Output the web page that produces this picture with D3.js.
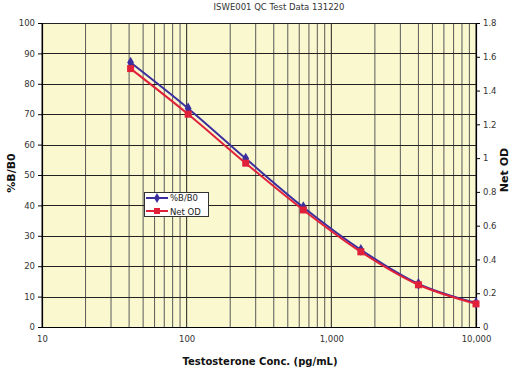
<!DOCTYPE html>
<html><head><meta charset="utf-8">
<script src="https://cdn.jsdelivr.net/npm/d3@7"></script>
<style>body{margin:0;background:#fff}svg{display:block}</style>
</head><body><svg id="c" width="512" height="368"></svg>
<script>
const conc = [40.96, 102.4, 256, 640, 1600, 4000, 10000];
const pctB = [87.0, 71.9, 55.4, 39.4, 25.4, 14.2, 7.9];
const netOD = [1.53, 1.26, 0.97, 0.693, 0.445, 0.25, 0.137];
const leftTicks = [0,10,20,30,40,50,60,70,80,90,100];
const rightTicks = [0,0.2,0.4,0.6,0.8,1,1.2,1.4,1.6,1.8];
const xTicks = [10,100,1000,10000];
const title = "ISWE001 QC Test Data 131220";

const svg = d3.select("#c");
const L=42,R=476,T=23,B=327;
const x = d3.scaleLog().domain([10,10000]).range([L,R]);
const yL = d3.scaleLinear().domain([0,100]).range([B,T]);
const yR = d3.scaleLinear().domain([0,1.8]).range([B,T]);
const font = "DejaVu Sans, sans-serif";

svg.append("rect").attr("x",L).attr("y",T).attr("width",R-L).attr("height",B-T).attr("fill","#F9F8CF");

// vertical grid
const minor = [];
for (let d=10; d<10000; d*=10) for (let k=1;k<10;k++) minor.push(d*k);
minor.push(10000);
svg.append("g").selectAll("line").data(minor).join("line")
  .attr("x1",d=>x(d)).attr("x2",d=>x(d)).attr("y1",T).attr("y2",B)
  .attr("stroke",d=>[10,100,1000,10000].includes(d)?"#222":"#5a5a5a").attr("stroke-width",1);
// horizontal grid
svg.append("g").selectAll("line").data(leftTicks).join("line")
  .attr("x1",L).attr("x2",R).attr("y1",d=>Math.round(yL(d))+0.5).attr("y2",d=>Math.round(yL(d))+0.5)
  .attr("stroke","#222").attr("stroke-width",1);

// axes
const axL = svg.append("g").attr("transform",`translate(${L},0)`)
  .call(d3.axisLeft(yL).tickValues(leftTicks).tickSize(4).tickPadding(3));
const axR = svg.append("g").attr("transform",`translate(${R},0)`)
  .call(d3.axisRight(yR).tickValues(rightTicks).tickSize(4).tickPadding(3).tickFormat(d=>d3.format("~g")(d)));
const axB = svg.append("g").attr("transform",`translate(0,${B})`)
  .call(d3.axisBottom(x).tickValues(xTicks).tickSize(0).tickPadding(9).tickFormat(d3.format(",")));
[axL,axR,axB].forEach(g=>{
  g.select(".domain").attr("stroke","#000").attr("stroke-width",1.2);
  g.selectAll(".tick line").attr("stroke","#000");
  g.selectAll("text").attr("font-family",font).attr("font-size",8.5).attr("fill","#333");
});

// lines
const line = (ys, yS) => d3.line().x((d,i)=>x(conc[i])).y(d=>yS(d)).curve(d3.curveCatmullRom)(ys);
svg.append("path").attr("d",line(pctB,yL)).attr("fill","none").attr("stroke","#3B2F9E").attr("stroke-width",2);
svg.append("path").attr("d",line(netOD,yR)).attr("fill","none").attr("stroke","#E1203A").attr("stroke-width",2);
svg.append("g").selectAll("path").data(pctB).join("path")
  .attr("d",d3.symbol(d3.symbolDiamond,40)())
  .attr("transform",(d,i)=>`translate(${x(conc[i])},${yL(d)})`).attr("fill","#3B2F9E");
svg.append("g").selectAll("rect").data(netOD).join("rect")
  .attr("x",(d,i)=>x(conc[i])-3.5).attr("y",d=>yR(d)-3.5).attr("width",7).attr("height",7).attr("fill","#E1203A");

// legend
const lg = svg.append("g");
lg.append("rect").attr("x",144.5).attr("y",192.5).attr("width",64).attr("height",24).attr("fill","#fff").attr("stroke","#333").attr("stroke-width",1);
lg.append("line").attr("x1",146).attr("x2",168).attr("y1",198).attr("y2",198).attr("stroke","#3B2F9E").attr("stroke-width",2);
lg.append("path").attr("d",d3.symbol(d3.symbolDiamond,30)()).attr("transform","translate(157,198)").attr("fill","#3B2F9E");
lg.append("line").attr("x1",146).attr("x2",168).attr("y1",211).attr("y2",211).attr("stroke","#E1203A").attr("stroke-width",2);
lg.append("rect").attr("x",154).attr("y",208).attr("width",6).attr("height",6).attr("fill","#E1203A");
lg.append("text").attr("x",170).attr("y",201).text("%B/B0").attr("font-family",font).attr("font-size",8.5).attr("fill","#222");
lg.append("text").attr("x",170).attr("y",214.5).text("Net OD").attr("font-family",font).attr("font-size",8.5).attr("fill","#222");

// titles
svg.append("text").attr("x",279).attr("y",10).attr("text-anchor","middle").text(title)
  .attr("font-family",font).attr("font-size",8.5).attr("fill","#333");
svg.append("text").attr("transform","translate(15,173) rotate(-90)").attr("text-anchor","middle").text("%B/B0")
  .attr("font-family",font).attr("font-size",11).attr("font-weight","bold").attr("fill","#111");
svg.append("text").attr("transform","translate(508,170) rotate(-90)").attr("text-anchor","middle").text("Net OD")
  .attr("font-family",font).attr("font-size",11).attr("font-weight","bold").attr("fill","#111");
svg.append("text").attr("x",260).attr("y",365).attr("text-anchor","middle").text("Testosterone Conc. (pg/mL)")
  .attr("font-family",font).attr("font-size",10).attr("font-weight","bold").attr("fill","#111");
</script></body></html>
